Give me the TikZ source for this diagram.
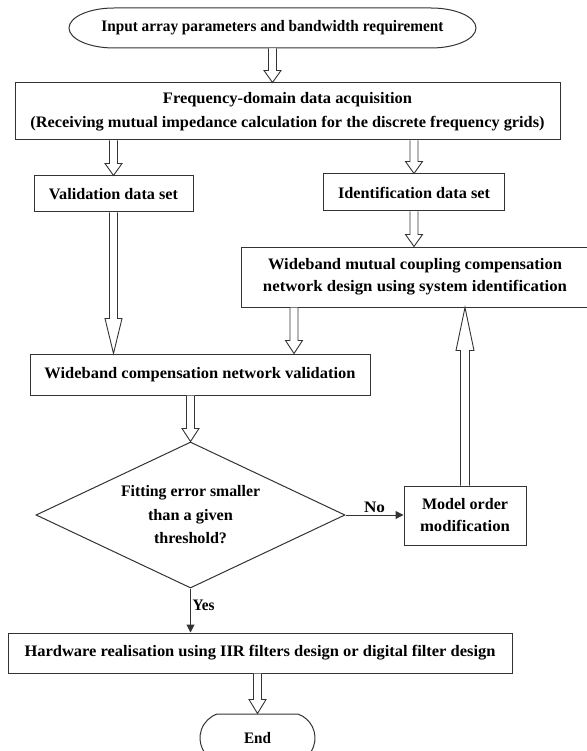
\documentclass[tikz,border=0pt]{standalone}
\usepackage{fontspec}
\usepackage{graphicx}
\setmainfont{Liberation Serif}
\usetikzlibrary{shapes.geometric,shapes.misc,arrows.meta,calc}
\newcommand{\tw}[2]{\resizebox{#1}{\height}{#2}}
\tikzset{
  every node/.style={text=black},
  box/.style={draw=black!80, line width=1pt, rectangle, inner sep=0pt, align=center,
    font=\bfseries\fontsize{16}{22}\selectfont},
  blockarr/.style={draw=black!80, line width=0.9pt, fill=white, line join=miter},
  thinarr/.style={draw=black!80, line width=1pt, -{Triangle[length=8pt,width=8pt]}},
  lbl/.style={font=\bfseries\fontsize{16}{18}\selectfont, inner sep=1.5pt}
}
\newcommand{\harrowdown}[3][12pt]{%
  \draw[blockarr] let \p1=(#2), \p2=(#3) in
   (\x1-4pt,\y1) -- (\x1-4pt,\y2+#1) -- (\x1-8.5pt,\y2+#1) -- (\x1,\y2)
   -- (\x1+8.5pt,\y2+#1) -- (\x1+4pt,\y2+#1) -- (\x1+4pt,\y1);}
\newcommand{\harrowup}[3][12pt]{%
  \draw[blockarr] let \p1=(#2), \p2=(#3) in
   (\x1-4.5pt,\y1) -- (\x1-4.5pt,\y2-#1) -- (\x1-9pt,\y2-#1) -- (\x1,\y2)
   -- (\x1+9pt,\y2-#1) -- (\x1+4.5pt,\y2-#1) -- (\x1+4.5pt,\y1);}
\begin{document}
\begin{tikzpicture}[x=1pt,y=-1pt]
\fill[white] (0,0) rectangle (586,751);
\useasboundingbox (0,0) rectangle (586,751);

% start terminal (pill with elliptic ends)
\node[box, draw=none, minimum width=407pt, minimum height=40pt] (start) at (272.5,28)
  {\tw{342pt}{Input array parameters and bandwidth requirement}};
\draw[draw=black!80, line width=1pt] (114,8) -- (431,8)
  .. controls (455.9,8) and (476,17) .. (476,28)
  .. controls (476,39) and (455.9,48) .. (431,48) -- (114,48)
  .. controls (89.1,48) and (69,39) .. (69,28)
  .. controls (69,17) and (89.1,8) .. (114,8) -- cycle;

\node[box, minimum width=545pt, minimum height=57pt, font=\bfseries\fontsize{16}{24}\selectfont] (freq) at (287.5,111.5)
  {\tw{249pt}{Frequency-domain data acquisition}\\
   \tw{514pt}{(Receiving mutual impedance calculation for the discrete frequency grids)}};
\node[box, minimum width=159pt, minimum height=36pt] (vds) at (113.5,194)
  {\tw{129pt}{Validation data set}};
\node[box, minimum width=181pt, minimum height=37pt] (ids) at (414,192.5)
  {\tw{152pt}{Identification data set}};
\node[box, minimum width=348pt, minimum height=60pt] (wmc) at (415,277)
  {\tw{294pt}{Wideband mutual coupling compensation}\\
   \tw{304pt}{network design using system identification}};
\node[box, minimum width=340pt, minimum height=41pt] (wcv) at (200,374.5)
  {\tw{311pt}{Wideband compensation network validation}};
\node[box, diamond, aspect=2.1, minimum width=309pt, minimum height=146pt,
  font=\bfseries\fontsize{16}{23.5}\selectfont] (dia) at (190.5,515)
  {\tw{139pt}{Fitting error smaller}\\\tw{85pt}{than a given}\\\tw{73pt}{threshold?}};
\node[box, minimum width=122pt, minimum height=59pt] (mom) at (465,515.5)
  {\tw{86pt}{Model order}\\\tw{90pt}{modification}};
\node[box, minimum width=504pt, minimum height=40pt] (hw) at (260,653)
  {\tw{471pt}{Hardware realisation using IIR filters design or digital filter design}};
\node[box, rounded rectangle, rounded rectangle arc length=142, minimum width=115pt,
  minimum height=48pt] (end) at (257.5,738) {\tw{27pt}{End}};

\coordinate (w6) at (294,0);

\harrowdown{start.south}{start.south |- freq.north}
\harrowdown{vds.north |- freq.south}{vds.north}
\harrowdown{ids.north |- freq.south}{ids.north}
\harrowdown{ids.south}{ids.south |- wmc.north}
\harrowdown[35pt]{vds.south}{vds.south |- wcv.north}
\harrowdown[13pt]{w6 |- wmc.south}{w6 |- wcv.north}
\harrowdown[13pt]{dia.north |- wcv.south}{dia.north}
\harrowup[43pt]{mom.north}{mom.north |- wmc.south}
\harrowdown[14pt]{end.north |- hw.south}{end.north}

\draw[thinarr] (dia.east) -- (dia.east -| mom.west) node[lbl, midway, above] {\tw{21pt}{No}};
\draw[thinarr] (dia.south) -- (dia.south |- hw.north) node[lbl, pos=0.38, right] {\tw{22pt}{Yes}};
\end{tikzpicture}
\end{document}
